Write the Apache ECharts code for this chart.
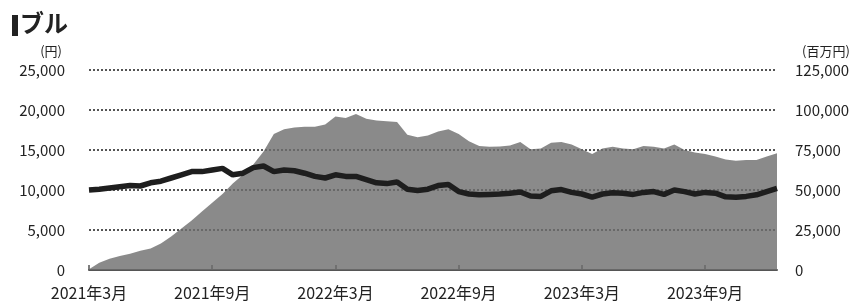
<!DOCTYPE html>
<html>
<head>
<meta charset="utf-8">
<script src="https://cdn.jsdelivr.net/npm/echarts@6/dist/echarts.min.js"></script>
<style>
  html, body { margin: 0; padding: 0; background: #fff; }
  #chart { width: 860px; height: 302px; }
</style>
</head>
<body>
<div id="chart"></div>
<script>
// half-month points, 2021/03 .. 2023/12
const dates = [];
for (let y = 2021, m = 3; y < 2024; ) {
  dates.push(y + '/' + m + '/1', y + '/' + m + '/16');
  m++;
  if (m > 12) { m = 1; y++; }
}

// 基準価額 (円)
const price = [
  10000, 10100, 10250, 10400, 10550, 10500, 10900, 11100, 11500, 11900,
  12300, 12300, 12500, 12700, 11900, 12100, 12800, 13000, 12300, 12500,
  12400, 12100, 11700, 11500, 11900, 11700, 11700, 11300, 10900, 10800,
  11000, 10100, 9950, 10100, 10550, 10700, 9800, 9500, 9400, 9450,
  9500, 9600, 9750, 9250, 9200, 9900, 10050, 9700, 9500, 9100,
  9500, 9650, 9600, 9450, 9700, 9800, 9450, 10000, 9800, 9500,
  9700, 9600, 9150, 9100, 9200, 9400, 9800, 10200
];

// 純資産総額 (百万円)
const assets = [
  500, 4500, 7000, 8800, 10200, 12000, 13500, 16500, 21000, 26000,
  31000, 36500, 42000, 47500, 54000, 59500, 66000, 74000, 85000, 88000,
  89000, 89500, 89500, 91000, 96000, 95000, 97500, 94500, 93500, 93000,
  92500, 84500, 83000, 84000, 86500, 88000, 85000, 80500, 77500, 77000,
  77200, 77800, 80000, 75500, 76000, 79500, 80000, 78500, 75500, 72500,
  76000, 77000, 76000, 75500, 77500, 77000, 76000, 78500, 75000, 73500,
  72500, 71000, 69000, 68300, 68700, 68800, 71000, 73000
];

const font = '"Noto Sans CJK JP", "Noto Sans", sans-serif';
const fmt = v => v.toLocaleString('en-US');

let myChart = echarts.init(document.getElementById('chart'));
myChart.setOption({
  animation: false,
  backgroundColor: '#fff',
  textStyle: { fontFamily: font },
  grid: { left: 89, right: 83, top: 70, bottom: 32 },
  graphic: [
    { type: 'rect', left: 12, top: 15, shape: { width: 6, height: 21 }, style: { fill: '#222' } },
    { type: 'text', left: 20, top: 11, style: { text: 'ブル', fill: '#222', font: 'bold 24px ' + font } }
  ],
  xAxis: {
    type: 'category',
    data: dates,
    boundaryGap: false,
    axisLine: { lineStyle: { color: '#555', width: 2 } },
    axisTick: { interval: 11, inside: true, length: 5, lineStyle: { color: '#555', width: 1.5 } },
    axisLabel: {
      interval: 11,
      hideOverlap: false,
      margin: 15,
      color: '#222',
      fontSize: 16,
      fontFamily: font,
      formatter: function (v) {
        const p = v.split('/');
        return p[0] + '年' + p[1] + '月';
      }
    }
  },
  yAxis: [
    {
      type: 'value',
      min: 0,
      max: 25000,
      interval: 5000,
      name: '(円)',
      nameLocation: 'end',
      nameGap: 12,
      nameTextStyle: { color: '#222', fontSize: 13, align: 'right', padding: [0, 27, 0, 0] },
      axisLine: { show: false },
      axisTick: { show: false },
      axisLabel: { margin: 24, color: '#222', fontSize: 15, formatter: fmt },
      splitLine: { lineStyle: { color: '#555', width: 2, type: [2, 2] } }
    },
    {
      type: 'value',
      min: 0,
      max: 125000,
      interval: 25000,
      name: '(百万円)',
      nameLocation: 'end',
      nameGap: 12,
      nameTextStyle: { color: '#222', fontSize: 13, align: 'left', padding: [0, 0, 0, 25] },
      axisLine: { show: false },
      axisTick: { show: false },
      axisLabel: { margin: 18, color: '#222', fontSize: 15, formatter: fmt },
      splitLine: { show: false }
    }
  ],
  series: [
    {
      name: '純資産総額',
      type: 'line',
      yAxisIndex: 1,
      data: assets,
      symbol: 'none',
      lineStyle: { width: 0 },
      areaStyle: { color: 'rgb(109,109,109)', opacity: 0.8 },
      z: 1
    },
    {
      name: '基準価額',
      type: 'line',
      yAxisIndex: 0,
      data: price,
      symbol: 'none',
      lineStyle: { color: '#1e1e1e', width: 5.5 },
      z: 2
    }
  ]
});
</script>
</body>
</html>
